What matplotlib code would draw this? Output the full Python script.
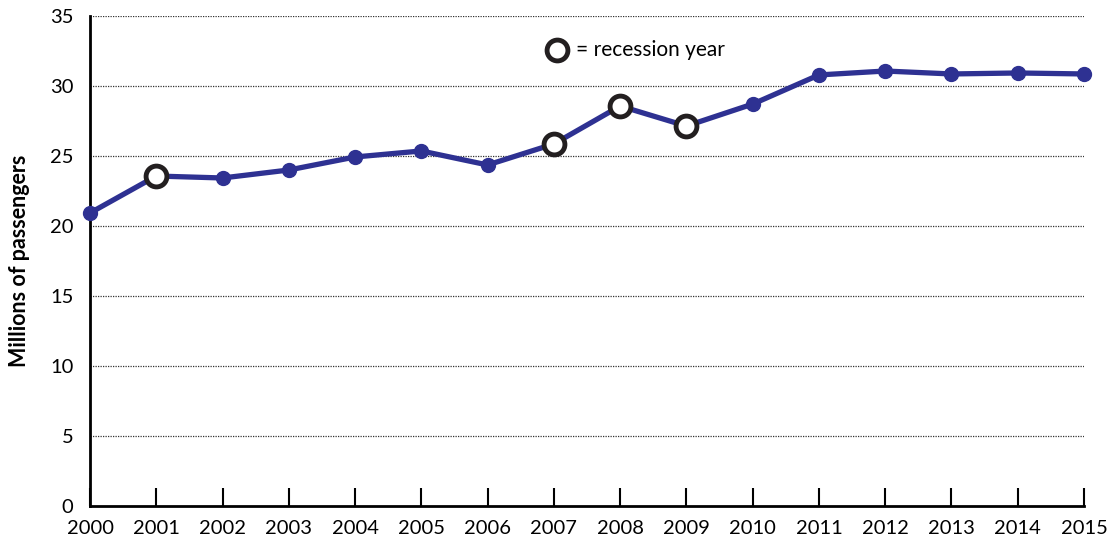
import numpy as np
import matplotlib.pyplot as plt

years = np.arange(2000, 2016)
passengers = np.array([20.93, 23.57, 23.43, 24.0, 24.93, 25.36, 24.36, 25.86,
                       28.57, 27.14, 28.71, 30.79, 31.07, 30.86, 30.93, 30.86])
recession_years = [2001, 2007, 2008, 2009]

plt.rcParams['font.family'] = ['Lato', 'DejaVu Sans']

fig = plt.figure(figsize=(11.09, 5.46), dpi=100)
ax = fig.add_axes([90 / 1109, 1 - 506 / 546, (1084 - 90) / 1109, (506 - 16) / 546])

blue = '#2e3192'
ax.plot(years, passengers, color=blue, lw=3.8, zorder=3, clip_on=False)
normal = ~np.isin(years, recession_years)
ax.plot(years[normal], passengers[normal], 'o', color=blue, ms=10, zorder=4,
        clip_on=False)
rec = np.isin(years, recession_years)
ax.plot(years[rec], passengers[rec], 'o', mfc='white', mec='#231f20', mew=3.5,
        ms=15, zorder=5, clip_on=False)

ax.set_xlim(2000, 2015)
ax.set_ylim(0, 35)
ax.set_xticks(years)
ax.set_yticks(range(0, 36, 5))
for v in range(5, 36, 5):
    ax.axhline(v, color='#333333', lw=0.9, ls=(0, (1, 1)), zorder=1)

ax.spines['top'].set_visible(False)
ax.spines['right'].set_visible(False)
ax.spines['left'].set_linewidth(2)
ax.spines['bottom'].set_linewidth(2)
ax.tick_params(axis='x', direction='in', length=13, width=1.5, labelsize=14.5, pad=10)
ax.tick_params(axis='y', length=0, labelsize=14.5, pad=12)
ax.set_ylabel('Millions of passengers', fontsize=15.5, fontweight='bold', labelpad=14)

ax.plot([2007.05], [32.57], 'o', mfc='white', mec='#231f20', mew=3.5, ms=15,
        clip_on=False, zorder=5)
ax.text(2007.33, 32.57, '= recession year', fontsize=15, va='center', ha='left')

fig.savefig('out.png', dpi=100)
